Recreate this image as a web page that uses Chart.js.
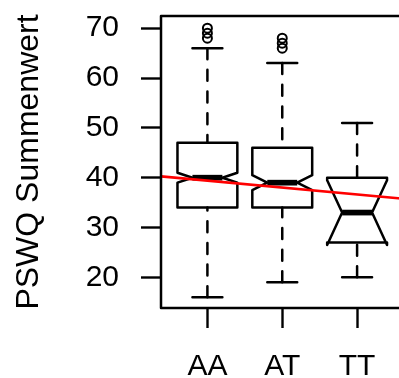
<!DOCTYPE html>
<html><head><meta charset="utf-8">
<script src="https://cdn.jsdelivr.net/npm/chart.js@4"></script>
<style>html,body{margin:0;padding:0;overflow:hidden;background:#fff}</style>
</head><body>
<canvas id="c" width="410" height="378" style="width:410px;height:378px;display:block"></canvas>
<script>
// ---- data ----
const categories = ['AA', 'AT', 'TT'];
const whiskerLow  = [16, 19, 20];
const q1          = [34, 34, 27];
const medians     = [40, 39, 33];
const q3          = [47, 46, 40];
const whiskerHigh = [66, 63, 51];
const notchLow    = [39, 37.5, 26.5];
const notchHigh   = [41, 40.5, 39.5];
const outliersAA  = [68, 69, 70];
const outliersAT  = [66, 67, 68];
const outliersTT  = [];
const regressionX = [0.38, 3.62];
const regressionY = [40.26, 35.78];
const yTicks      = [20, 30, 40, 50, 60, 70];
const yTitle      = 'PSWQ Summenwert';

const outlierLists = [outliersAA, outliersAT, outliersTT];
const outlierPoints = [];
outlierLists.forEach((list, i) => list.forEach(v => outlierPoints.push({x: i + 1, y: v})));
const regressionPoints = regressionX.map((x, i) => ({x, y: regressionY[i]}));

const FONT = 'Liberation Sans, Arial, Helvetica, sans-serif';
const LW = 2.5;

const boxPlugin = {
  id: 'boxes',
  beforeDatasetsDraw(chart) {
    const {ctx, scales: {x, y}} = chart;
    ctx.save();
    ctx.strokeStyle = '#000';
    ctx.lineJoin = 'round';
    categories.forEach((c, i) => {
      const pos = i + 1;
      const wid = 0.4, nf = 0.5, staple = 0.2;
      const X = v => x.getPixelForValue(v);
      const Y = v => y.getPixelForValue(v);
      ctx.lineWidth = LW;
      ctx.lineCap = 'round';
      ctx.setLineDash([11, 10.7]);
      ctx.beginPath();
      ctx.moveTo(X(pos), Y(whiskerHigh[i])); ctx.lineTo(X(pos), Y(q3[i]));
      ctx.stroke();
      ctx.beginPath();
      ctx.moveTo(X(pos), Y(whiskerLow[i])); ctx.lineTo(X(pos), Y(q1[i]));
      ctx.stroke();
      ctx.setLineDash([]);
      ctx.beginPath();
      ctx.moveTo(X(pos - staple), Y(whiskerHigh[i])); ctx.lineTo(X(pos + staple), Y(whiskerHigh[i]));
      ctx.moveTo(X(pos - staple), Y(whiskerLow[i])); ctx.lineTo(X(pos + staple), Y(whiskerLow[i]));
      ctx.stroke();
      const xs = [-1, 1, 1, nf, 1, 1, -1, -1, -nf, -1].map(k => pos + wid * k);
      const ys = [q1[i], q1[i], notchLow[i], medians[i], notchHigh[i], q3[i], q3[i], notchHigh[i], medians[i], notchLow[i]];
      ctx.beginPath();
      xs.forEach((xv, k) => { if (k === 0) ctx.moveTo(X(xv), Y(ys[k])); else ctx.lineTo(X(xv), Y(ys[k])); });
      ctx.closePath();
      ctx.stroke();
      ctx.lineWidth = 5.7;
      ctx.lineCap = 'butt';
      ctx.beginPath();
      ctx.moveTo(X(pos - wid * nf), Y(medians[i])); ctx.lineTo(X(pos + wid * nf), Y(medians[i]));
      ctx.stroke();
    });
    ctx.restore();
  },
  afterDraw(chart) {
    const {ctx, chartArea: a} = chart;
    ctx.save();
    ctx.strokeStyle = '#000';
    ctx.lineWidth = LW;
    ctx.lineJoin = 'round';
    ctx.strokeRect(a.left, a.top, a.right - a.left, a.bottom - a.top);
    ctx.restore();
  }
};

new Chart(document.getElementById('c'), {
  type: 'scatter',
  data: {
    datasets: [
      {
        type: 'line', data: regressionPoints, borderColor: '#ff0000', borderWidth: 2.6,
        pointRadius: 0, fill: false, tension: 0
      },
      {
        data: outlierPoints, pointStyle: 'circle', pointRadius: 4.5, borderWidth: 2,
        borderColor: '#000', backgroundColor: 'rgba(0,0,0,0)'
      }
    ]
  },
  options: {
    responsive: false, animation: false,
    layout: {padding: {top: 16, right: 4, left: 0, bottom: 0}},
    plugins: {legend: {display: false}, tooltip: {enabled: false}},
    scales: {
      x: {
        type: 'linear', min: 0.38, max: 3.62,
        afterBuildTicks: s => { s.ticks = categories.map((c, i) => ({value: i + 1})); },
        ticks: {
          callback: v => categories[Math.round(v) - 1] ?? '',
          font: {family: FONT, size: 30}, color: '#000', padding: 21,
          maxRotation: 0, autoSkip: false
        },
        grid: {drawOnChartArea: false, drawTicks: true, tickLength: 20, tickWidth: 2.4, tickColor: '#000'},
        border: {display: false},
        afterFit: s => { s.height = 70; s.paddingLeft = 0; s.paddingRight = 0; }
      },
      y: {
        type: 'linear', min: 13.85, max: 72.45,
        afterBuildTicks: s => { s.ticks = yTicks.map(v => ({value: v})); },
        ticks: {font: {family: FONT, size: 30}, color: '#000', padding: 22},
        grid: {drawOnChartArea: false, drawTicks: true, tickLength: 20, tickWidth: 2.4, tickColor: '#000'},
        border: {display: false},
        title: {display: true, text: yTitle, font: {family: FONT, size: 32}, color: '#000', padding: {top: 10, bottom: 0}},
        afterFit: s => { s.width = 161; s.paddingTop = 0; s.paddingBottom = 0; }
      }
    }
  },
  plugins: [boxPlugin]
});
</script>
</body></html>
